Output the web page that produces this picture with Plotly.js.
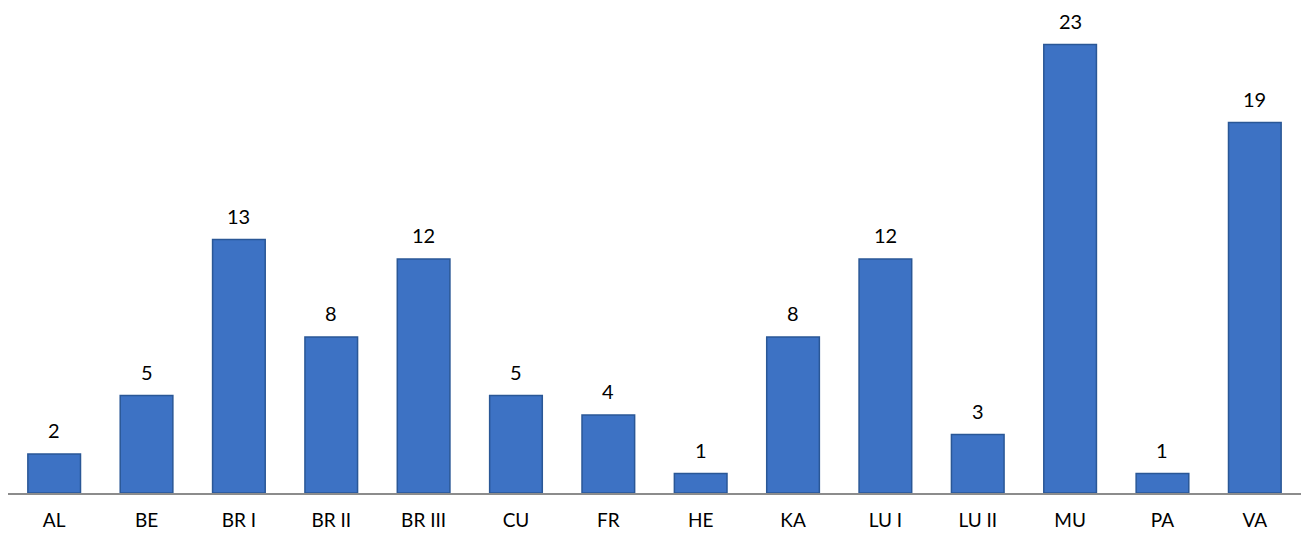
<!DOCTYPE html>
<html>
<head>
<meta charset="utf-8">
<script src="https://cdn.plot.ly/plotly-3.0.1.min.js"></script>
<style>html,body{margin:0;padding:0;background:#fff}#chart{width:1301px;height:540px}</style>
</head>
<body>
<div id="chart"></div>
<script>
const categories = ["AL","BE","BR I","BR II","BR III","CU","FR","HE","KA","LU I","LU II","MU","PA","VA"];
const values = [2,5,13,8,12,5,4,1,8,12,3,23,1,19];

const trace = {
  type: 'bar',
  x: categories,
  y: values,
  marker: {color: '#3d72c4', line: {color: '#2a5796', width: 1.5}},
  hoverinfo: 'x+y'
};

const annotations = categories.map((c, i) => ({
  x: c, y: values[i], xref: 'x', yref: 'y',
  text: String(values[i]), showarrow: false,
  yanchor: 'bottom', yshift: 10,
  font: {family: 'Lato, Carlito, sans-serif', size: 20, color: '#000'}
}));

const layout = {
  width: 1301, height: 540,
  margin: {l: 8, r: 0, t: 0, b: 47},
  paper_bgcolor: '#fff', plot_bgcolor: '#fff',
  bargap: 0.43,
  showlegend: false,
  xaxis: {
    type: 'category', range: [-0.5, 13.5],
    showline: true, linecolor: '#8c8c8c', linewidth: 2,
    ticks: '', showgrid: false, zeroline: false,
    tickfont: {family: 'Lato, Carlito, sans-serif', size: 19, color: '#000'},
    ticklabelstandoff: 9
  },
  yaxis: {
    range: [0, 493/19.5], visible: false, showgrid: false, zeroline: false
  },
  annotations: annotations
};

Plotly.newPlot('chart', [trace], layout, {displayModeBar: false, staticPlot: true});
</script>
</body>
</html>
